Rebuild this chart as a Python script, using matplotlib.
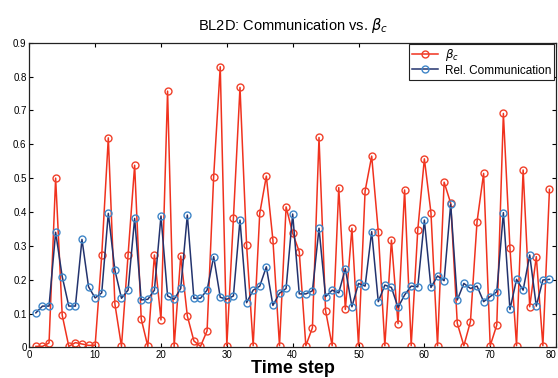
import matplotlib.pyplot as plt

# time steps 1..79
steps = list(range(1, 80))

beta_c = [0.003, 0.003, 0.013, 0.500, 0.095, 0.003, 0.014, 0.010, 0.006, 0.006,
          0.272, 0.619, 0.128, 0.003, 0.273, 0.538, 0.084, 0.003, 0.273, 0.081,
          0.757, 0.003, 0.270, 0.093, 0.019, 0.003, 0.049, 0.504, 0.829, 0.005,
          0.381, 0.768, 0.302, 0.005, 0.396, 0.506, 0.317, 0.005, 0.415, 0.337,
          0.283, 0.005, 0.058, 0.620, 0.108, 0.005, 0.472, 0.112, 0.352, 0.005,
          0.462, 0.565, 0.342, 0.005, 0.317, 0.070, 0.465, 0.005, 0.347, 0.557,
          0.398, 0.005, 0.488, 0.426, 0.071, 0.005, 0.076, 0.371, 0.514, 0.005,
          0.066, 0.691, 0.293, 0.005, 0.524, 0.120, 0.268, 0.005, 0.467]

rel_comm = [0.102, 0.122, 0.122, 0.340, 0.209, 0.122, 0.122, 0.319, 0.179, 0.146,
            0.161, 0.396, 0.228, 0.145, 0.169, 0.381, 0.140, 0.142, 0.169, 0.388,
            0.152, 0.142, 0.174, 0.391, 0.145, 0.145, 0.169, 0.268, 0.148, 0.142,
            0.152, 0.376, 0.132, 0.169, 0.181, 0.238, 0.124, 0.160, 0.174, 0.394,
            0.158, 0.158, 0.167, 0.352, 0.150, 0.169, 0.161, 0.233, 0.120, 0.189,
            0.181, 0.342, 0.135, 0.184, 0.177, 0.118, 0.155, 0.181, 0.179, 0.376,
            0.177, 0.211, 0.197, 0.423, 0.140, 0.189, 0.174, 0.181, 0.135, 0.150,
            0.164, 0.398, 0.112, 0.201, 0.169, 0.273, 0.122, 0.199, 0.201]

plt.rcParams['font.family'] = ['Liberation Sans', 'DejaVu Sans']

fig = plt.figure(figsize=(5.58, 3.78), dpi=100)
ax = fig.add_axes([0.0525, 0.081, 0.944, 0.806])

ax.plot(steps, beta_c, color='#f0321e', linewidth=1.1, marker='o', markersize=5,
        markerfacecolor='none', markeredgecolor='#f0402a', markeredgewidth=1.0,
        label=r'$\beta_c$')
ax.plot(steps, rel_comm, color='#23336e', linewidth=1.1, marker='o', markersize=5,
        markerfacecolor='none', markeredgecolor='#3f86c8', markeredgewidth=1.0,
        label='Rel. Communication')

ax.set_xlim(0, 80)
ax.set_ylim(0, 0.9)
ax.set_xticks(range(0, 81, 10))
ax.set_yticks([i / 10 for i in range(10)])
ax.set_yticklabels(['0'] + ['0.%d' % i for i in range(1, 10)])
ax.tick_params(direction='in', length=3, labelsize=7, top=True, right=True, pad=2)
# last x label would run off the edge
ax.get_xticklabels()[-1].set_horizontalalignment('right')
for s in ax.spines.values():
    s.set_linewidth(0.9)
    s.set_color('#222222')

ax.set_title(r'BL2D: Communication vs. $\beta_c$', fontsize=10.5, pad=9)
ax.set_xlabel('Time step', fontsize=13, fontweight='bold', labelpad=0)

leg = ax.legend(loc='upper right', fontsize=8.5, fancybox=False, framealpha=1,
                edgecolor='#222222', borderaxespad=0.15, handlelength=2.2,
                borderpad=0.25, labelspacing=0.1, handletextpad=0.6)
leg.get_frame().set_linewidth(0.8)

fig.savefig('out.png', dpi=100)
